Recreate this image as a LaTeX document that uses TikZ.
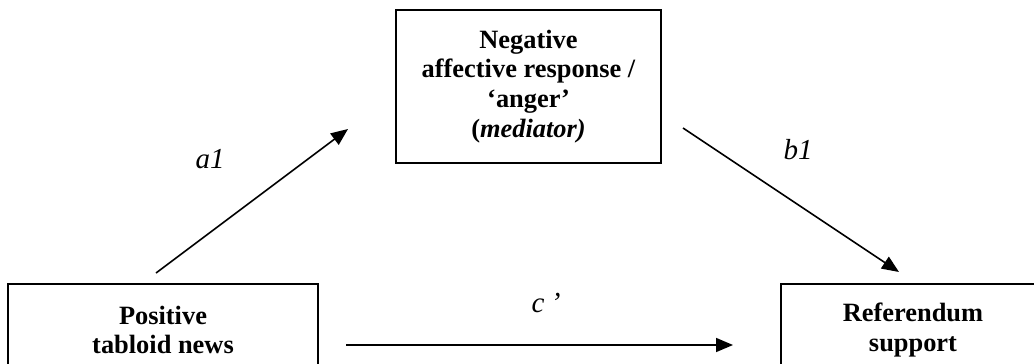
\documentclass[tikz,border=0pt]{standalone}
\usepackage{fontspec}
\setmainfont{Liberation Serif}
\usetikzlibrary{arrows.meta}
\begin{document}
\begin{tikzpicture}[x=0.5pt,y=-0.5pt,
  varbox/.style={draw, line width=1pt, rectangle, inner sep=0pt, align=center,
    font=\bfseries\fontsize{13.2}{14.9}\selectfont},
  path/.style={line width=0.8pt, -{Triangle[length=8.5pt,width=7pt]}},
  coef/.style={font=\itshape\fontsize{14.5}{16}\selectfont, anchor=base}]
\clip (0,0) rectangle (1034,364);
\fill[white] (0,0) rectangle (1034,364);
% boxes
\node[varbox, minimum width=132.5pt, minimum height=76.5pt] (med) at (528.5,86.5)
  {Negative\\affective response /\\‘anger’\\(\textit{mediator)}};
\node[varbox, minimum width=155pt, minimum height=46pt] (pos) at (163,330)
  {Positive\\tabloid news};
\node[varbox, minimum width=132pt, minimum height=46pt] (ref) at (913,330)
  {Referendum\\support};
% arrow end points
\coordinate (a1s) at (156,273);
\coordinate (a1e) at (348,129);
\coordinate (b1s) at (683,128);
\coordinate (b1e) at (899,272);
\coordinate (cs) at (346,345);
\coordinate (ce) at (733,345);
\draw[path] (a1s) -- (a1e);
\draw[path] (b1s) -- (b1e);
\draw[path] (cs) -- (ce);
% labels
\node[coef] (la) at (210,168) {a1};
\node[coef] (lb) at (798,159) {b1};
\node[coef] (lc) at (546,312) {c\hspace{0.22em}’};
\end{tikzpicture}
\end{document}
